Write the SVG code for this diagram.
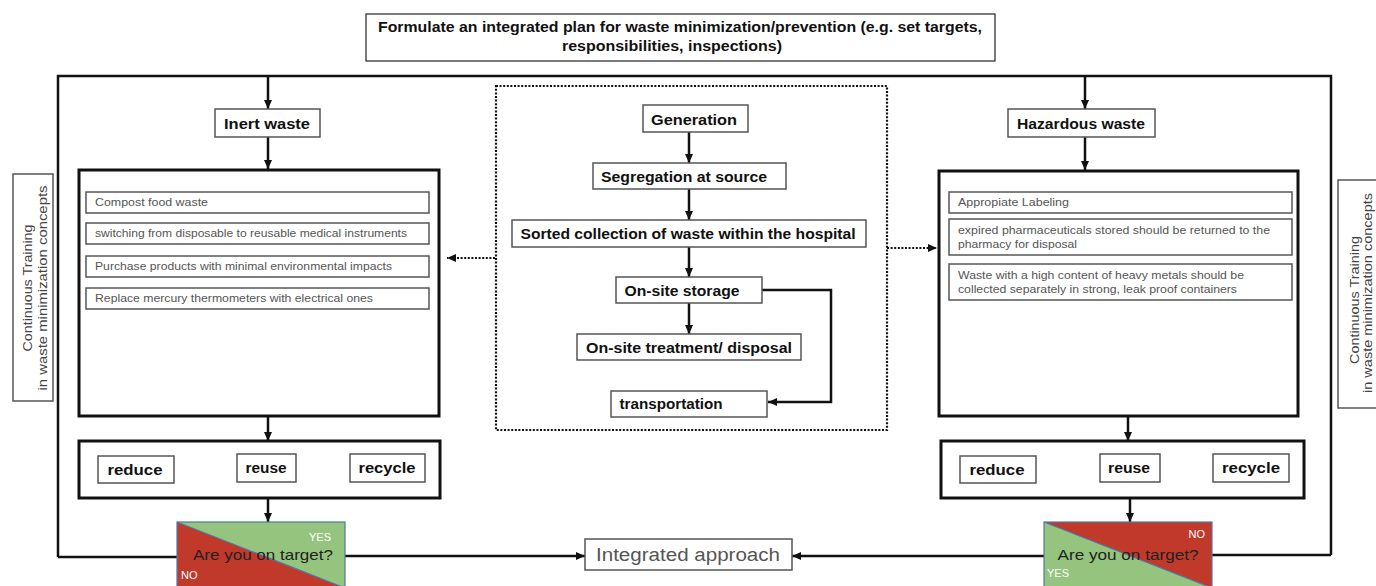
<svg xmlns="http://www.w3.org/2000/svg" width="1376" height="586" viewBox="0 0 1376 586">
<style>
.bx{fill:#fff;stroke:#222;stroke-width:1.2}
.bxg{fill:#fff;stroke:#555;stroke-width:1.5}
.big{fill:#fff;stroke:#111;stroke-width:3}
.dot{fill:none;stroke:#111;stroke-width:2.2;stroke-dasharray:2 1.6}
.ln{fill:none;stroke:#111;stroke-width:2.5}
.lnd{fill:none;stroke:#111;stroke-width:2.2;stroke-dasharray:2 1.6}
.b{font-family:"Liberation Sans",Arial,sans-serif;font-weight:bold;font-size:14px;fill:#111}
.t{font-family:"Liberation Sans",Arial,sans-serif;font-size:11px;fill:#555}
.r{font-family:"Liberation Sans",Arial,sans-serif;font-size:13px;fill:#444}
.q{font-family:"Liberation Sans",Arial,sans-serif;font-size:15px;fill:#222}
.w{font-family:"Liberation Sans",Arial,sans-serif;font-size:11px;fill:#fff}
.ia{font-family:"Liberation Sans",Arial,sans-serif;font-size:18px;fill:#555}
</style>
<defs>
<marker id="ah" markerUnits="userSpaceOnUse" markerWidth="10" markerHeight="10" refX="9" refY="5" orient="auto">
<path d="M0,1 L9,5 L0,9 Z" fill="#111"/>
</marker>
</defs>
<g id="connectors">
<path class="ln" d="M58,557 L58,76 L1331,76 L1331,555"/>
<path class="ln" d="M268,76 L268,109" marker-end="url(#ah)"/>
<path class="ln" d="M268,137 L268,169" marker-end="url(#ah)"/>
<path class="ln" d="M1085,76 L1085,109" marker-end="url(#ah)"/>
<path class="ln" d="M1085,137 L1085,170" marker-end="url(#ah)"/>
<path class="ln" d="M268,416 L268,441" marker-end="url(#ah)"/>
<path class="ln" d="M1128,416 L1128,441" marker-end="url(#ah)"/>
<path class="ln" d="M268,498 L268,522" marker-end="url(#ah)"/>
<path class="ln" d="M1130,498 L1130,522" marker-end="url(#ah)"/>
<path class="ln" d="M177,557 L58,557"/>
<path class="ln" d="M1212,555 L1331,555"/>
<path class="ln" d="M345,556 L585,556" marker-end="url(#ah)"/>
<path class="ln" d="M1044,556 L792,556" marker-end="url(#ah)"/>
<path class="ln" d="M689,132 L689,163" marker-end="url(#ah)"/>
<path class="ln" d="M689,189 L689,220" marker-end="url(#ah)"/>
<path class="ln" d="M689,247 L689,277" marker-end="url(#ah)"/>
<path class="ln" d="M689,303 L689,334" marker-end="url(#ah)"/>
<path class="ln" d="M762,290 L831,290 L831,402 L768,402" marker-end="url(#ah)"/>
<path class="lnd" d="M495,258 L447,258" marker-end="url(#ah)"/>
<path class="lnd" d="M887,248 L937,248" marker-end="url(#ah)"/>
</g>
<g id="top-plan">
<rect class="bx" x="366" y="14" width="629" height="47" stroke-width="1.8"/>
<text class="b" x="680" y="32" text-anchor="middle" textLength="604" lengthAdjust="spacingAndGlyphs">Formulate an integrated plan for waste minimization/prevention (e.g. set targets,</text>
<text class="b" x="672" y="51" text-anchor="middle" textLength="220" lengthAdjust="spacingAndGlyphs">responsibilities, inspections)</text>
</g>
<g id="training-left">
<rect class="bxg" x="13" y="174" width="40" height="227"/>
<text class="r" transform="translate(32,288) rotate(-90)" text-anchor="middle" textLength="127" lengthAdjust="spacingAndGlyphs">Continuous Training</text>
<text class="r" transform="translate(47,288) rotate(-90)" text-anchor="middle" textLength="205" lengthAdjust="spacingAndGlyphs">in waste minimization concepts</text>
</g>
<g id="training-right">
<rect class="bxg" x="1338" y="180" width="40" height="228"/>
<text class="r" transform="translate(1359,300) rotate(-90)" text-anchor="middle" textLength="128" lengthAdjust="spacingAndGlyphs">Continuous Training</text>
<text class="r" transform="translate(1372,293) rotate(-90)" text-anchor="middle" textLength="200" lengthAdjust="spacingAndGlyphs">in waste minimization concepts</text>
</g>
<g id="inert-waste">
<rect class="bxg" x="215" y="109" width="105" height="28"/>
<text class="b" x="267" y="129" text-anchor="middle" textLength="86" lengthAdjust="spacingAndGlyphs">Inert waste</text>
</g>
<g id="hazardous-waste">
<rect class="bxg" x="1008" y="109" width="147" height="28"/>
<text class="b" x="1081" y="129" text-anchor="middle" textLength="128" lengthAdjust="spacingAndGlyphs">Hazardous waste</text>
</g>
<g id="inert-measures">
<rect class="big" x="79" y="170" width="360" height="246"/>
<rect class="bxg" x="86" y="192" width="343" height="21"/>
<text class="t" x="95" y="206" textLength="113" lengthAdjust="spacingAndGlyphs">Compost food waste</text>
<rect class="bxg" x="86" y="223" width="343" height="21"/>
<text class="t" x="95" y="237" textLength="312" lengthAdjust="spacingAndGlyphs">switching from disposable to reusable medical instruments</text>
<rect class="bxg" x="86" y="256" width="343" height="21"/>
<text class="t" x="95" y="270" textLength="297" lengthAdjust="spacingAndGlyphs">Purchase products with minimal environmental impacts</text>
<rect class="bxg" x="86" y="288" width="343" height="21"/>
<text class="t" x="95" y="302" textLength="278" lengthAdjust="spacingAndGlyphs">Replace mercury thermometers with electrical ones</text>
</g>
<g id="hazardous-measures">
<rect class="big" x="939" y="171" width="359" height="245"/>
<rect class="bxg" x="949" y="192" width="343" height="21"/>
<text class="t" x="958" y="206" textLength="111" lengthAdjust="spacingAndGlyphs">Appropiate Labeling</text>
<rect class="bxg" x="949" y="219" width="343" height="36"/>
<text class="t" x="958" y="234" textLength="312" lengthAdjust="spacingAndGlyphs">expired pharmaceuticals stored should be returned to the</text>
<text class="t" x="958" y="248" textLength="119" lengthAdjust="spacingAndGlyphs">pharmacy for disposal</text>
<rect class="bxg" x="949" y="264" width="343" height="36"/>
<text class="t" x="958" y="279" textLength="286" lengthAdjust="spacingAndGlyphs">Waste with a high content of heavy metals should be</text>
<text class="t" x="958" y="293" textLength="279" lengthAdjust="spacingAndGlyphs">collected separately in strong, leak proof containers</text>
</g>
<g id="lifecycle">
<rect class="dot" x="496" y="86" width="391" height="344"/>
</g>
<g id="generation">
<rect class="bxg" x="643" y="105" width="105" height="27"/>
<text class="b" x="694" y="125" text-anchor="middle" textLength="86" lengthAdjust="spacingAndGlyphs">Generation</text>
</g>
<g id="segregation">
<rect class="bxg" x="593" y="163" width="193" height="26"/>
<text class="b" x="684" y="182" text-anchor="middle" textLength="166" lengthAdjust="spacingAndGlyphs">Segregation at source</text>
</g>
<g id="sorted-collection">
<rect class="bxg" x="512" y="220" width="354" height="27"/>
<text class="b" x="688" y="239" text-anchor="middle" textLength="335" lengthAdjust="spacingAndGlyphs">Sorted collection of waste within the hospital</text>
</g>
<g id="onsite-storage">
<rect class="bxg" x="616" y="277" width="146" height="26"/>
<text class="b" x="682" y="296" text-anchor="middle" textLength="115" lengthAdjust="spacingAndGlyphs">On-site storage</text>
</g>
<g id="onsite-treatment">
<rect class="bxg" x="577" y="334" width="224" height="26"/>
<text class="b" x="689" y="353" text-anchor="middle" textLength="206" lengthAdjust="spacingAndGlyphs">On-site treatment/ disposal</text>
</g>
<g id="transportation">
<rect class="bxg" x="611" y="391" width="156" height="26"/>
<text class="b" x="671" y="409" text-anchor="middle" textLength="103" lengthAdjust="spacingAndGlyphs">transportation</text>
</g>
<g id="rrr-left">
<rect class="big" x="79" y="441" width="361" height="57"/>
<rect class="bxg" x="98" y="456" width="76" height="27"/>
<text class="b" x="135" y="475" text-anchor="middle" textLength="55" lengthAdjust="spacingAndGlyphs">reduce</text>
<rect class="bxg" x="237" y="454" width="59" height="28"/>
<text class="b" x="266" y="473" text-anchor="middle" textLength="41" lengthAdjust="spacingAndGlyphs">reuse</text>
<rect class="bxg" x="350" y="454" width="75" height="28"/>
<text class="b" x="387" y="473" text-anchor="middle" textLength="57" lengthAdjust="spacingAndGlyphs">recycle</text>
</g>
<g id="rrr-right">
<rect class="big" x="941" y="441" width="363" height="57"/>
<rect class="bxg" x="960" y="456" width="76" height="27"/>
<text class="b" x="997" y="475" text-anchor="middle" textLength="55" lengthAdjust="spacingAndGlyphs">reduce</text>
<rect class="bxg" x="1100" y="454" width="60" height="28"/>
<text class="b" x="1129" y="473" text-anchor="middle" textLength="42" lengthAdjust="spacingAndGlyphs">reuse</text>
<rect class="bxg" x="1213" y="454" width="76" height="28"/>
<text class="b" x="1251" y="473" text-anchor="middle" textLength="58" lengthAdjust="spacingAndGlyphs">recycle</text>
</g>
<g id="target-left">
<rect x="177" y="522" width="168" height="66" fill="#C0392B"/>
<path d="M177,522 L345,522 L345,588 Z" fill="#95C47E"/>
<path d="M177,522 L345,588" stroke="#4f79a8" stroke-width="1.2"/>
<rect x="177" y="522" width="168" height="66" fill="none" stroke="#4f79a8" stroke-width="1.2"/>
<text class="w" x="331" y="541" text-anchor="end">YES</text>
<text class="w" x="181" y="579">NO</text>
<text class="q" x="263" y="560" text-anchor="middle" textLength="140" lengthAdjust="spacingAndGlyphs">Are you on target?</text>
</g>
<g id="target-right">
<rect x="1044" y="522" width="168" height="66" fill="#95C47E"/>
<path d="M1044,522 L1212,522 L1212,588 Z" fill="#C0392B"/>
<path d="M1044,522 L1212,588" stroke="#4f79a8" stroke-width="1.2"/>
<rect x="1044" y="522" width="168" height="66" fill="none" stroke="#4f79a8" stroke-width="1.2"/>
<text class="w" x="1205" y="538" text-anchor="end">NO</text>
<text class="w" x="1047" y="577" fill="#e8f0f8">YES</text>
<text class="q" x="1128" y="560" text-anchor="middle" textLength="141" lengthAdjust="spacingAndGlyphs">Are you on target?</text>
</g>
<g id="integrated-approach">
<rect class="bxg" x="585" y="539" width="207" height="31"/>
<text class="ia" x="688" y="561" text-anchor="middle" textLength="184" lengthAdjust="spacingAndGlyphs">Integrated approach</text>
</g>
</svg>
